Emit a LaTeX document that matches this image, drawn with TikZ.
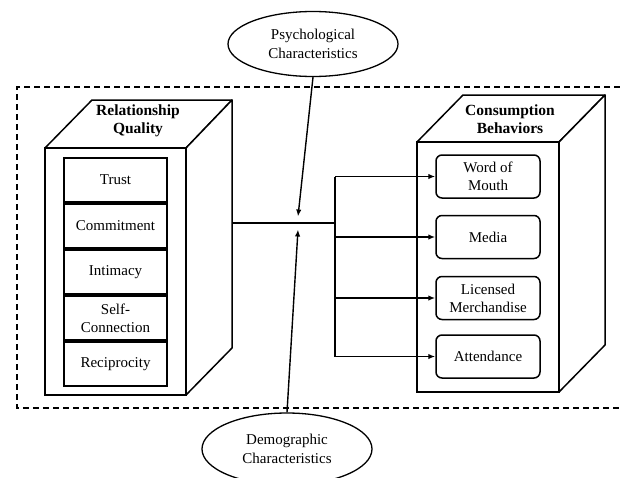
\documentclass[tikz,border=0pt]{standalone}
\usepackage{fontspec}
\setmainfont{Liberation Serif}
\usetikzlibrary{arrows.meta,shapes.geometric}
\begin{document}
\begin{tikzpicture}[x=1pt,y=-1pt,
  face/.style={draw,line width=1.5pt,line join=round,fill=white},
  frontface/.style={draw,line width=1.5pt,fill=white,inner sep=0pt},
  item/.style={draw,line width=1.5pt,minimum width=103pt,minimum height=44pt,inner sep=1pt,align=center,font=\fontsize{15}{18}\selectfont},
  ritem/.style={item,rounded corners=6pt,minimum width=104pt,minimum height=43pt},
  head/.style={font=\bfseries\fontsize{15.5}{18}\selectfont,align=center},
  oval/.style={draw,ellipse,line width=1.3pt,minimum width=170pt,minimum height=65pt,inner sep=0pt,align=center,font=\fontsize{15}{19}\selectfont},
  conn/.style={line width=1.4pt},
  arr/.style={conn,-{Latex[length=7pt,width=5.5pt]}},
  frame/.style={line width=1.4pt,dash pattern=on 6pt off 4pt}
]
\useasboundingbox (0,0) rectangle (620,477);

% dashed frame
\draw[frame] (630,87) -- (17,87) -- (17,408) -- (630,408);

% left 3D box
\draw[face] (45,148) -- (92,100) -- (232,100) -- (186,148) -- cycle;
\draw[face] (186,148) -- (232,100) -- (232,348) -- (186,395) -- cycle;
\node[frontface,minimum width=141pt,minimum height=247pt] (rqfront) at (115.5,271.5) {};
\node[head] (rqhead) at (138,121) {Relationship\\Quality};
\coordinate (rqside) at (232,223);

\node[item] (trust) at (115.5,180) {Trust};
\node[item] (commit) at (115.5,226) {Commitment};
\node[item] (intim) at (115.5,272) {Intimacy};
\node[item] (selfc) at (115.5,318) {Self-\\Connection};
\node[item] (recip) at (115.5,364) {Reciprocity};

% right 3D box
\draw[face] (417,142) -- (463,95) -- (605,95) -- (559,142) -- cycle;
\draw[face] (559,142) -- (605,95) -- (605,345) -- (559,392) -- cycle;
\node[frontface,minimum width=142pt,minimum height=250pt] (cbfront) at (488,267) {};
\node[head] (cbhead) at (510,119) {Consumption\\Behaviors};

\node[ritem] (wom) at (488,176.5) {Word of\\Mouth};
\node[ritem] (media) at (488,237) {Media};
\node[ritem] (lic) at (488,298) {Licensed\\Merchandise};
\node[ritem] (att) at (488,356.5) {Attendance};

% connectors
\coordinate (bus) at (335,223);
\draw[conn] (rqside) -- (bus);
\draw[conn] (bus |- wom.west) -- (bus |- att.west);
\draw[arr] (bus |- wom.west) -- (wom.west);
\draw[arr] (bus |- media.west) -- (media.west);
\draw[arr] (bus |- lic.west) -- (lic.west);
\draw[arr] (bus |- att.west) -- (att.west);

% moderators
\node[oval] (psych) at (313,44) {Psychological\\Characteristics};
\node[oval,minimum height=72pt] (demo) at (287,449) {Demographic\\Characteristics};
\coordinate (jt) at (298,216.5);
\coordinate (jb) at (298,229.5);
\draw[arr] (psych.south) -- (jt);
\draw[arr] (demo.north) -- (jb);
\end{tikzpicture}
\end{document}
